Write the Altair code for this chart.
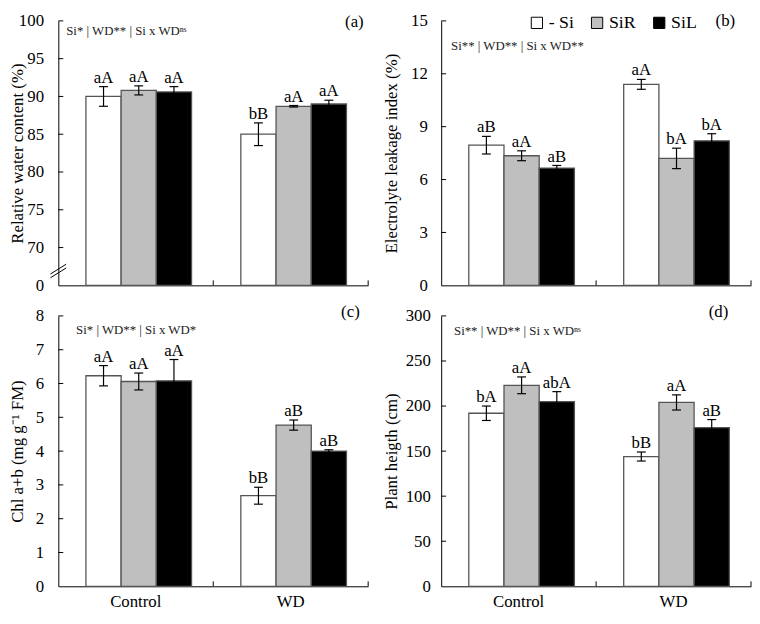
import altair as alt
import pandas as pd

# ---------------- data ----------------
TREATMENTS = ["- Si", "SiR", "SiL"]
CONDITIONS = ["Control", "WD"]
FILLS = ["white", "#bfbfbf", "black"]

# order: Control(-Si, SiR, SiL), WD(-Si, SiR, SiL)
RWC = [90.0, 90.8, 90.6, 85.0, 88.7, 89.0]
RWC_ERR = [1.3, 0.6, 0.7, 1.5, 0.1, 0.5]
RWC_LET = ["aA", "aA", "aA", "bB", "aA", "aA"]
RWC_TICKS = [65, 70, 75, 80, 85, 90, 95, 100]

ELI = [7.95, 7.35, 6.65, 11.4, 7.2, 8.2]
ELI_ERR = [0.5, 0.28, 0.15, 0.28, 0.58, 0.4]
ELI_LET = ["aB", "aA", "aB", "aA", "bA", "bA"]
ELI_TICKS = [0, 3, 6, 9, 12, 15]

CHL = [6.23, 6.06, 6.08, 2.68, 4.77, 4.0]
CHL_ERR = [0.3, 0.25, 0.63, 0.25, 0.15, 0.04]
CHL_LET = ["aA", "aA", "aA", "bB", "aB", "aB"]
CHL_TICKS = [0, 1, 2, 3, 4, 5, 6, 7, 8]

PH = [192, 223, 205, 144, 204, 176]
PH_ERR = [8, 9.3, 11, 5, 8.4, 9]
PH_LET = ["bA", "aA", "abA", "bB", "aA", "aB"]
PH_TICKS = [0, 50, 100, 150, 200, 250, 300]

# axis break marks on panel (a) (value coordinates)
BREAK_LO = [66.0, 66.5]
BREAK_HI = [67.3, 67.8]

SERIF = "Liberation Serif"
W = 314
H_TOP = 268
H_BOT = 274


def panel(vals, errs, lets, ticks, title, ann, plabel, *, H, show_x, title_x,
          lab_pad, ann_xy, plabel_xy, legend=False, breaks=False):
    cond = [c for c in CONDITIONS for _ in TREATMENTS]
    trt = TREATMENTS * len(CONDITIONS)
    df = pd.DataFrame({
        "cond": cond, "trt": trt, "val": vals,
        "lo": [v - e for v, e in zip(vals, errs)],
        "hi": [v + e for v, e in zip(vals, errs)],
        "let": lets,
    })
    ymin, ymax = ticks[0], ticks[-1]
    yscale = alt.Scale(domain=[ymin, ymax], nice=False, zero=False)
    label_expr = "datum.value == 65 ? '0' : datum.label" if breaks else "datum.label"
    yaxis = alt.Axis(values=ticks, ticks=False, labelPadding=lab_pad,
                     titleX=title_x, labelExpr=label_expr, grid=False,
                     labelFont=SERIF, labelFontSize=17, labelColor="black",
                     titleFont=SERIF, titleFontSize=17, titleFontWeight="normal",
                     titleColor="black", domainColor="black")
    xscale = alt.Scale(domain=CONDITIONS, paddingInner=0, paddingOuter=0)
    if show_x:
        xaxis = alt.Axis(labels=True, ticks=False, labelAngle=0, labelPadding=7,
                         title=None, grid=False, labelFont=SERIF, labelFontSize=17,
                         labelColor="black", domainColor="black")
    else:
        xaxis = alt.Axis(labels=False, ticks=False, title=None, grid=False,
                         domainColor="black")
    xoff = alt.XOffset("trt:N", sort=TREATMENTS,
                       scale=alt.Scale(domain=TREATMENTS, paddingOuter=0.7,
                                       paddingInner=0, align=0.56))

    def X(**kw):
        return alt.X("cond:N", scale=xscale, axis=xaxis, sort=CONDITIONS, title=None, **kw)

    def Y(field):
        return alt.Y(field, scale=yscale, axis=yaxis, title=title)

    if legend:
        leg = alt.Legend(orient="none", legendX=88, legendY=-7, direction="horizontal",
                         title=None, symbolType="square", symbolSize=130,
                         symbolStrokeColor="black", symbolStrokeWidth=1,
                         labelFont=SERIF, labelFontSize=18, labelColor="black",
                         labelOffset=3, columnPadding=14, padding=0, symbolOpacity=1)
    else:
        leg = None

    base = alt.Chart(df)
    bars = base.mark_bar(stroke="#555555", strokeWidth=1.3).encode(
        x=X(), xOffset=xoff, y=Y("val:Q"), y2=alt.datum(ymin),
        fill=alt.Fill("trt:N", sort=TREATMENTS,
                      scale=alt.Scale(domain=TREATMENTS, range=FILLS), legend=leg),
    )
    err = base.mark_rule(color="black", strokeWidth=1.2).encode(
        x=X(), xOffset=xoff, y=Y("lo:Q"), y2="hi:Q")
    cap_lo = base.mark_tick(color="black", thickness=1.2, size=9, opacity=1).encode(
        x=X(), xOffset=xoff, y=Y("lo:Q"))
    cap_hi = base.mark_tick(color="black", thickness=1.2, size=9, opacity=1).encode(
        x=X(), xOffset=xoff, y=Y("hi:Q"))
    letters = base.mark_text(font=SERIF, fontSize=17, baseline="alphabetic", dy=-4,
                             color="black").encode(
        x=X(), xOffset=xoff, y=Y("hi:Q"), text="let:N")

    ytk = alt.Chart(pd.DataFrame({"tk": ticks[1:]})).mark_rule(
        color="black", strokeWidth=1).encode(
        x=alt.value(0), x2=alt.value(5), y=Y("tk:Q"))
    xtk = alt.Chart(pd.DataFrame({"cond": CONDITIONS})).mark_rule(
        color="black", strokeWidth=1).encode(
        x=X(bandPosition=1), y=alt.value(H), y2=alt.value(H - 5))

    ann_layer = alt.Chart(pd.DataFrame({"t": [ann]})).mark_text(
        font=SERIF, fontSize=13, align="left", baseline="middle", color="#222222").encode(
        x=alt.value(ann_xy[0]), y=alt.value(ann_xy[1]), text="t:N")
    pl_layer = alt.Chart(pd.DataFrame({"t": [plabel]})).mark_text(
        font=SERIF, fontSize=17, align="center", baseline="middle", color="black").encode(
        x=alt.value(W - plabel_xy[0]), y=alt.value(plabel_xy[1]), text="t:N")

    layers = [bars, err, cap_lo, cap_hi, letters, ytk, xtk, ann_layer, pl_layer]
    if breaks:
        bdf = pd.DataFrame({"b1": BREAK_LO, "b2": BREAK_HI})
        brk = alt.Chart(bdf).mark_rule(color="black", strokeWidth=1).encode(
            x=alt.value(-8), x2=alt.value(8), y=Y("b1:Q"), y2="b2:Q")
        layers.append(brk)
    return alt.layer(*layers).properties(width=W, height=H)


pa = panel(RWC, RWC_ERR, RWC_LET, RWC_TICKS, "Relative water content (%)",
           "Si* | WD** | Si x WDⁿˢ", "(a)", H=H_TOP, show_x=False, title_x=-32,
           lab_pad=15, ann_xy=(8, 10), plabel_xy=(14, 1), breaks=True)
pb = panel(ELI, ELI_ERR, ELI_LET, ELI_TICKS, "Electrolyte leakage index (%)",
           "Si** | WD** | Si x WD**", "(b)", H=H_TOP, show_x=False, title_x=-41,
           lab_pad=14, ann_xy=(10, 25), plabel_xy=(26, 0), legend=True)
pc = panel(CHL, CHL_ERR, CHL_LET, CHL_TICKS, "Chl a+b (mg g⁻¹ FM)",
           "Si* | WD** | Si x WD*", "(c)", H=H_BOT, show_x=True, title_x=-32,
           lab_pad=15, ann_xy=(18, 14), plabel_xy=(18, -4))
pd_ = panel(PH, PH_ERR, PH_LET, PH_TICKS, "Plant heigth (cm)",
            "Si** | WD** | Si x WDⁿˢ", "(d)", H=H_BOT, show_x=True, title_x=-41,
            lab_pad=11, ann_xy=(13, 15), plabel_xy=(33, -4))

chart = alt.concat(pa, pb, pc, pd_, columns=2,
                   spacing={"row": 10, "column": 13}).resolve_scale(
    fill="independent"
).configure(padding=0, background="white", font=SERIF).configure_view(
    stroke=None
).configure_axis(
    domainColor="black", domainWidth=1, labelFont=SERIF, labelFontSize=17,
    labelColor="black", titleFont=SERIF, titleFontSize=17, titleFontWeight="normal",
    titleColor="black", grid=False
).configure_legend(labelFont=SERIF, labelFontSize=18, labelColor="black")

chart.save("out.html", embed_options={"renderer": "svg", "actions": False})
